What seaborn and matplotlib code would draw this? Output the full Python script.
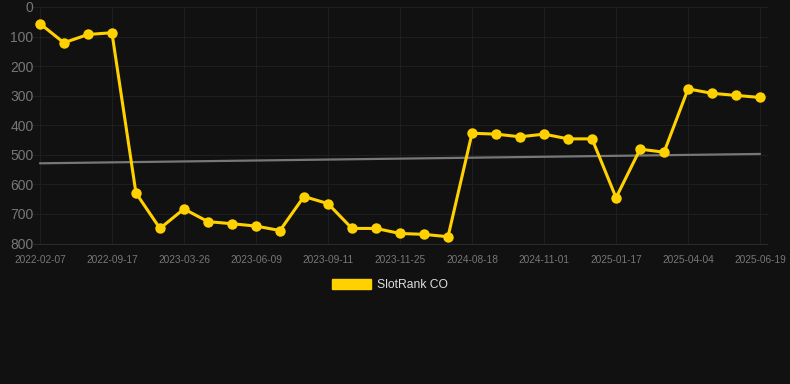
import numpy as np
import pandas as pd
import matplotlib
matplotlib.use("Agg")
import matplotlib.pyplot as plt
import seaborn as sns
from matplotlib.patches import Patch

# weekly-ish snapshots, evenly spaced on the x axis
dates = [
    "2022-02-07", "", "", "2022-09-17", "", "", "2023-03-26", "", "",
    "2023-06-09", "", "", "2023-09-11", "", "", "2023-11-25", "", "",
    "2024-08-18", "", "", "2024-11-01", "", "", "2025-01-17", "", "",
    "2025-04-04", "", "", "2025-06-19",
]
rank = [
    56, 121, 93, 87, 629, 749, 683, 726, 733, 741, 756, 641, 665, 749, 749,
    766, 769, 777, 427, 430, 439, 430, 446, 446, 645, 481, 491, 277, 292,
    299, 306,
]
series_name = "SlotRank CO"

bg = "#111111"
gold = "#FFD100"
grid_col = "#1e1e1e"
tick_col = "#777777"

sns.set_theme(style="dark")
plt.rcParams['font.family'] = ['Liberation Sans', 'DejaVu Sans']

df = pd.DataFrame({"idx": np.arange(len(rank)), "rank": rank})

fig = plt.figure(figsize=(7.9, 3.84), dpi=100, facecolor=bg)
ax = fig.add_axes([32 / 790, 139 / 384, 736 / 790, 238 / 384])
ax.set_facecolor(bg)

# trend line
coef = np.polyfit(df["idx"], df["rank"], 1)
trend = np.polyval(coef, df["idx"])
ax.plot(df["idx"], trend, color="#777777", linewidth=1.6, zorder=2)

sns.lineplot(data=df, x="idx", y="rank", ax=ax, color=gold, linewidth=2.2,
             marker="o", markersize=7.5, markeredgewidth=0, zorder=3)

ax.set_xlim(-0.33, 30.33)
ax.set_ylim(805, 0)
ax.set_yticks(range(0, 801, 100))
ax.set_xticks(df["idx"][::3])
ax.set_xticklabels([d for d in dates if d])
ax.set_xlabel("")
ax.set_ylabel("")

ax.grid(True, color=grid_col, linewidth=0.8)
ax.axhline(800, color="#2a2a2a", linewidth=0.8, zorder=1)
for s in ax.spines.values():
    s.set_visible(False)
ax.tick_params(axis="y", colors=tick_col, labelsize=10, length=0, pad=-1)
ax.tick_params(axis="x", colors=tick_col, labelsize=7.3, length=4, width=0.8,
               color="#2a2a2a", pad=3)

handle = Patch(facecolor=gold, edgecolor=gold)
leg = fig.legend([handle], [series_name], loc="center", bbox_to_anchor=(390 / 790, 1 - 285 / 384),
                 frameon=False, handlelength=3.3, handleheight=0.9, handletextpad=0.5,
                 fontsize=8.7)
for t in leg.get_texts():
    t.set_color("#dddddd")

fig.savefig("out.png", dpi=100, facecolor=bg)
